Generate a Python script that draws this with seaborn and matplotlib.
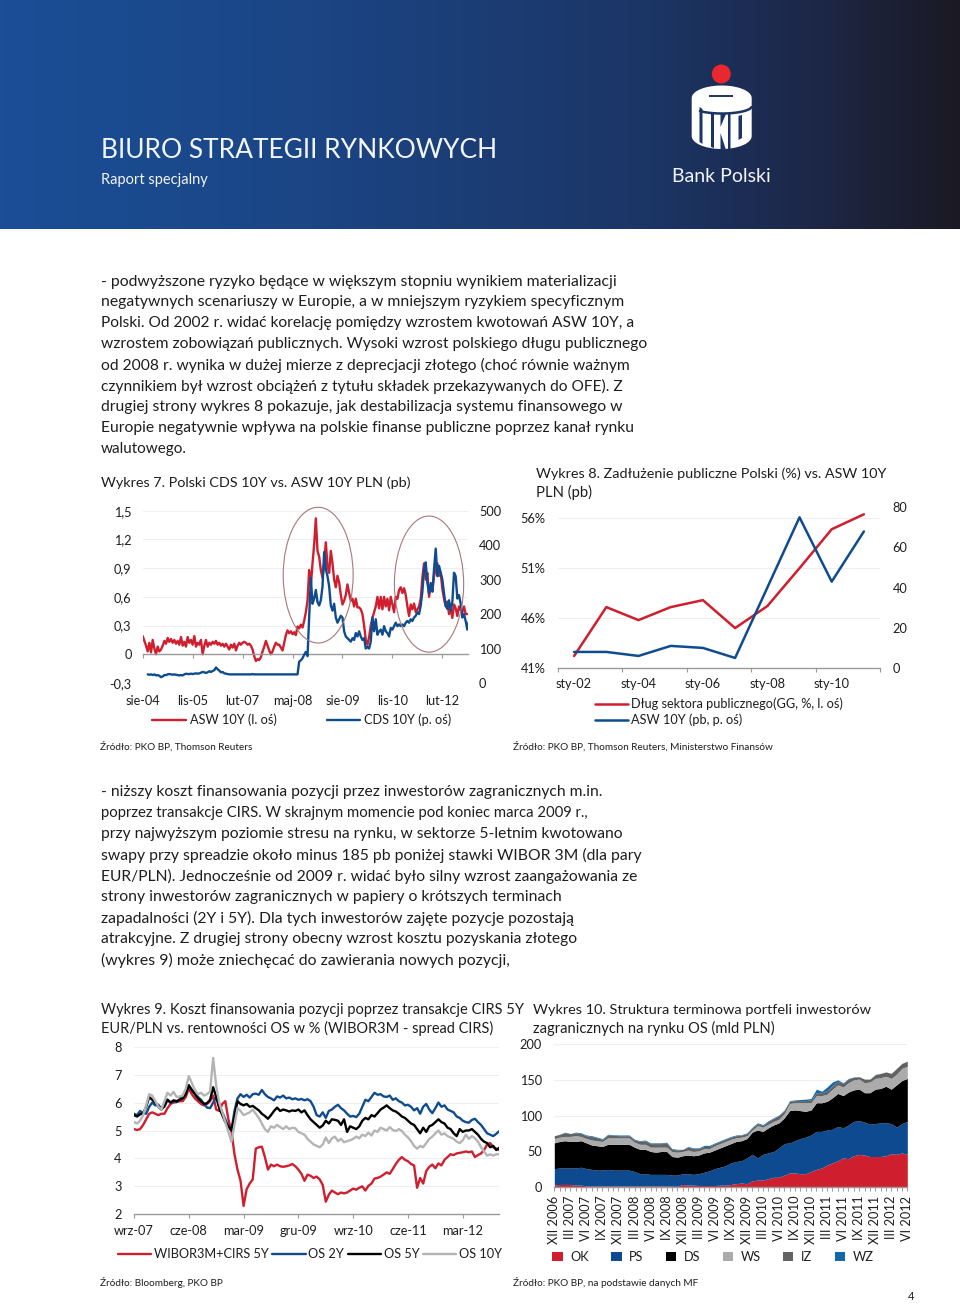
import numpy as np
import matplotlib
matplotlib.use("Agg")
import matplotlib.pyplot as plt
import seaborn as sns
from matplotlib.colors import LinearSegmentedColormap
from matplotlib.patches import Ellipse, Polygon, Circle, Patch

# ---------- chart 7 data ----------
w7_labels = ["sie-04", "lis-05", "lut-07", "maj-08", "sie-09", "lis-10", "lut-12"]
asw10y = [
 .19,.14,.09,.03,.12,.02,.15,.06,.00,.08,.03,.05,.09,.14,.11,.17,.13,.16,.12,.15,
 .11,.14,.10,.18,.09,.13,.08,.18,.12,.15,.10,.19,.08,.12,.10,.15,.00,.09,.15,.08,
 .12,.10,.13,.11,.14,.10,.12,.09,.11,.08,.11,.08,.05,.10,.07,.11,.04,.09,.12,.10,
 .12,.13,.12,.10,.11,.09,.05,-.02,-.07,-.05,-.06,-.03,.03,.08,.14,.09,.04,.00,.03,.08,
 .12,.10,.10,.07,.04,.12,.20,.25,.22,.24,.21,.23,.20,.29,.27,.31,.28,.35,.44,.56,
 .88,.72,.95,1.15,1.42,1.08,1.02,.88,.80,.95,1.17,.92,.85,1.08,.95,.78,.70,.82,.75,.62,
 .52,.56,.62,.73,.64,.56,.58,.50,.58,.49,.49,.47,.42,.30,.15,.10,.18,.30,.38,.44,
 .50,.60,.48,.60,.47,.60,.50,.58,.46,.60,.52,.44,.60,.58,.67,.70,.64,.69,.62,.50,
 .40,.52,.47,.53,.44,.47,.50,.58,.80,.95,.78,.85,.60,.72,.66,.82,.88,.95,.82,.85,
 .68,.58,.50,.55,.42,.48,.38,.52,.48,.40,.50,.46,.44,.50,.42,.42]
cds10y = [
 25,24,25,23,25,22,23,21,17,19,23,23,25,26,25,24,25,24,23,22,
 23,22,25,27,26,26,27,26,27,28,27,28,30,32,31,29,31,34,32,35,
 37,45,40,36,31,32,28,27,26,25,25,25,25,25,25,25,25,25,25,25,
 25,25,25,26,25,25,25,25,25,25,25,25,25,25,25,25,25,25,25,25,
 25,25,25,25,25,25,25,25,25,25,25,62,66,72,82,90,78,
 190,305,230,245,270,235,225,240,280,380,330,310,280,225,210,230,190,175,185,195,
 190,150,135,130,125,120,130,125,145,135,150,135,125,130,100,105,100,120,190,150,
 185,140,150,155,140,165,150,145,135,160,155,165,175,165,170,165,170,165,175,180,
 175,185,180,190,195,205,200,225,265,330,350,290,260,290,265,330,390,310,340,320,300,
 260,225,215,240,210,235,320,310,245,255,230,190,200,180,155,180]

# ---------- chart 8 data ----------
w8_labels = ["sty-02", "sty-04", "sty-06", "sty-08", "sty-10"]
debt_pct = [42.2, 47.1, 45.8, 47.1, 47.8, 45.0, 47.2, 51.0, 54.9, 56.4]
asw_pb = [8, 8, 6, 11, 10, 5, 40, 75, 43, 68]

# ---------- chart 9 data ----------
w9_labels = ["wrz-07", "cze-08", "mar-09", "gru-09", "wrz-10", "cze-11", "mar-12"]
wibor_cirs = [
 5.05,5.02,5.05,5.20,5.40,5.60,5.65,5.60,5.55,5.60,
 5.60,5.80,5.95,6.00,6.02,6.05,6.05,6.20,6.50,6.30,
 6.15,6.05,5.95,5.90,5.95,6.05,6.25,5.75,5.70,5.95,
 6.05,5.40,5.00,4.15,3.60,3.20,2.30,2.90,3.10,3.25,
 4.35,4.40,4.42,4.05,3.60,3.78,3.72,3.78,3.72,3.70,
 3.72,3.75,3.80,3.72,3.60,3.45,3.20,3.42,3.38,3.30,
 3.35,3.25,3.05,2.45,2.70,2.85,2.78,2.72,2.78,2.75,
 2.78,2.85,2.92,2.88,2.95,3.00,2.85,3.02,3.10,3.28,
 3.30,3.35,3.42,3.50,3.45,3.62,3.80,3.95,4.05,3.95,
 3.90,3.80,3.75,2.95,3.30,3.10,3.55,3.70,3.78,3.65,
 3.82,3.75,3.95,4.05,4.15,4.12,4.18,4.20,4.22,4.25,
 4.22,4.25,4.05,4.12,4.18,4.30,4.50,4.55,4.40,4.35,4.30]
os2y = [
 5.60,5.55,5.70,5.62,5.60,5.85,6.00,5.90,5.92,5.78,
 5.85,6.10,6.00,6.05,6.02,6.12,6.25,6.40,6.60,6.45,
 6.35,6.20,6.10,5.95,5.82,5.80,6.00,6.20,5.90,5.65,
 5.40,5.15,5.00,5.70,6.15,6.30,6.20,6.28,6.18,6.30,
 6.32,6.28,6.45,6.30,6.20,6.15,6.08,6.22,6.18,6.25,
 6.15,6.18,6.12,6.15,6.10,6.13,6.08,6.12,6.05,5.85,
 5.55,5.50,5.65,5.45,5.70,5.75,5.85,5.92,5.80,5.72,
 5.60,5.50,5.52,5.48,5.60,5.85,6.10,6.05,6.20,6.35,
 6.28,6.30,6.22,6.20,6.25,6.10,6.15,6.05,6.00,5.90,
 5.92,5.85,5.72,5.80,5.60,5.85,5.95,5.75,5.62,5.80,
 6.00,5.85,5.90,5.75,5.70,5.65,5.50,5.45,5.35,5.30,
 5.28,5.38,5.42,5.30,5.20,5.05,4.90,4.85,4.80,4.88,4.98]
os5y = [
 5.55,5.50,5.58,5.62,5.85,6.20,6.10,6.00,5.85,5.75,
 5.90,6.10,6.00,6.08,6.05,6.10,6.15,6.30,6.62,6.45,
 6.30,6.15,6.05,5.95,5.98,6.10,6.55,6.20,5.80,5.55,
 5.30,5.15,5.00,5.50,6.05,5.95,5.90,5.95,5.85,5.88,
 5.80,5.72,5.60,5.52,5.42,5.55,5.70,5.82,5.70,5.75,
 5.72,5.68,5.72,5.70,5.75,5.65,5.72,5.55,5.40,5.30,
 5.20,5.10,5.18,5.35,5.25,5.40,5.38,5.35,5.20,5.40,
 4.95,5.15,5.10,5.05,5.15,5.35,5.45,5.40,5.55,5.50,
 5.62,5.75,5.82,5.90,5.80,5.72,5.68,5.60,5.50,5.45,
 5.35,5.25,5.20,5.05,4.90,5.10,4.95,5.15,5.20,5.30,
 5.40,5.30,5.25,5.10,5.05,4.90,4.80,5.05,4.95,5.00,
 5.00,5.05,4.95,4.85,4.70,4.60,4.55,4.40,4.45,4.30,4.38]
os10y = [
 5.30,5.25,5.35,5.55,5.90,6.30,6.25,6.05,5.85,5.75,
 6.05,6.35,6.25,6.38,6.20,6.22,6.25,6.50,6.95,6.70,
 6.45,6.30,6.35,6.25,6.30,6.40,7.60,6.60,6.00,5.65,
 5.30,4.95,4.60,5.20,5.80,5.70,5.55,5.60,5.65,5.75,
 5.60,5.45,5.25,5.05,4.95,5.15,5.10,5.20,5.12,5.05,
 5.15,5.05,5.10,5.08,4.95,4.90,4.85,4.70,4.60,4.50,
 4.45,4.40,4.50,4.75,4.55,4.72,4.78,4.62,4.70,4.58,
 4.62,4.65,4.70,4.78,4.72,4.85,4.80,4.92,4.82,5.00,
 4.95,5.10,5.05,5.00,5.12,5.02,4.98,5.05,4.98,4.85,
 4.75,4.62,4.45,4.35,4.45,4.40,4.55,4.70,4.78,4.90,
 5.00,4.85,4.90,4.80,4.75,4.70,4.60,4.55,4.65,4.85,
 4.70,4.80,4.72,4.60,4.40,4.25,4.10,4.15,4.10,4.15,4.15]

# ---------- chart 10 data: monthly upper edge of each stacked band ----------
w10_quarters = ["XII 2006","III 2007","VI 2007","IX 2007","XII 2007","III 2008","VI 2008","IX 2008",
                "XII 2008","III 2009","VI 2009","IX 2009","XII 2009","III 2010","VI 2010","IX 2010",
                "XII 2010","III 2011","VI 2011","IX 2011","XII 2011","III 2012","VI 2012"]
ok_top = [3,4,4,4,3,3,2,2,2,2,2,2,2,2,2,2,2,2,2,2,2,2,1.5,1.5,4,3,3,2.5,2.5,2.5,2.5,3,3,4,5,6,5,
          9,10,10,12,14,14,17,20,20,19,19,22,25,27,31,34,37,41,40,44,46,45,43,43,43,44,47,46,48,46]
ps_top = [26,27,27,27,27,28,26,25,24,24,25,24,24,24,24,22,19,19,18,18,18,18,17,17,19,19,18,19,21,23,26,28,30,
          34,36,37,41,46,41,46,48,50,55,61,62,65,68,70,73,78,78,80,81,85,83,87,92,93,91,88,89,90,90,89,84,89,92]
ds_top = [62,64,65,64,64,65,62,59,58,57,60,60,60,60,60,56,53,53,50,49,50,50,43,42,44,45,44,45,48,49,52,55,58,
          61,64,65,68,77,80,78,83,87,90,97,107,108,107,106,108,118,118,120,125,131,128,133,136,137,132,132,137,138,141,137,143,149,152]
ws_top = [68,70,71,71,72,71,68,66,65,64,69,69,69,69,69,63,60,60,56,56,56,56,50,49,50,52,50,51,54,54,58,61,64,
          67,69,70,72,80,86,84,88,92,95,103,117,118,118,118,118,128,128,130,137,143,140,146,150,151,146,147,152,153,155,152,158,166,169]
iz_top = [72,74,76,75,76,75,72,71,69,67,73,73,72,72,72,66,64,65,61,61,61,62,53,52,53,56,54,54,57,57,61,64,67,
          70,72,73,75,83,89,86,92,96,100,107,120,121,121,121,122,132,132,135,142,148,145,151,154,154,151,151,157,159,161,159,166,173,176]
wz_top = [72,74,77,75,77,76,73,72,70,68,74,73.5,73,73,73,67,65,66,62,62,62,63,54,53,53,57,55,55,58.5,58.5,62,65,68,
          71,73,73.5,76,84,90,87.5,93,97,101,108,121,122,122.5,123,124,137,134,140,147,150,146,152,154,154.5,151,151,157.5,159,161,159,166,173,176]
w10_names = ["OK", "PS", "DS", "WS", "IZ", "WZ"]

# ---------- page text ----------
para1 = [
 ("- podwyższone ryzyko będące w większym stopniu wynikiem materializacji", 282, 614),
 ("negatywnych scenariuszy w Europie, a w mniejszym ryzykiem specyficznym", 302, 624),
 ("Polski. Od 2002 r. widać korelację pomiędzy wzrostem kwotowań ASW 10Y, a", 323, 634),
 ("wzrostem zobowiązań publicznych. Wysoki wzrost polskiego długu publicznego", 344, 644),
 ("od 2008 r. wynika w dużej mierze z deprecjacji złotego (choć równie ważnym", 365, 628),
 ("czynnikiem był wzrost obciążeń z tytułu składek przekazywanych do OFE). Z", 386, 623),
 ("drugiej strony wykres 8 pokazuje, jak destabilizacja systemu finansowego w", 407, 623),
 ("Europie negatywnie wpływa na polskie finanse publiczne poprzez kanał rynku", 428, 633),
 ("walutowego.", 449, 187)]
para2 = [
 ("- niższy koszt finansowania pozycji przez inwestorów zagranicznych m.in.", 792, 602),
 ("poprzez transakcje CIRS. W skrajnym momencie pod koniec marca 2009 r.,", 813, 587),
 ("przy najwyższym poziomie stresu na rynku, w sektorze 5-letnim kwotowano", 834, 621),
 ("swapy przy spreadzie około minus 185 pb poniżej stawki WIBOR 3M (dla pary", 855, 640),
 ("EUR/PLN). Jednocześnie od 2009 r. widać było silny wzrost zaangażowania ze", 876, 636),
 ("strony inwestorów zagranicznych w papiery o krótszych terminach", 897, 562),
 ("zapadalności (2Y i 5Y). Dla tych inwestorów zajęte pozycje pozostają", 918, 572),
 ("atrakcyjne. Z drugiej strony obecny wzrost kosztu pozyskania złotego", 939, 577),
 ("(wykres 9) może zniechęcać do zawierania nowych pozycji,", 960, 508)]

RED, BLUE, GRAY = "#CF1F2E", "#0F4C8F", "#B4B4B4"
GRID = "#EFEFEF"
INK = "#1E1E1E"

sns.set_theme(style="white")
plt.rcParams["font.family"] = ["Lato", "DejaVu Sans"]
plt.rcParams["text.color"] = INK
plt.rcParams["axes.labelcolor"] = INK
plt.rcParams["xtick.color"] = INK
plt.rcParams["ytick.color"] = INK

W, H = 960, 1304
fig = plt.figure(figsize=(W/100, H/100), dpi=100, facecolor="white")

ov = fig.add_axes([0, 0, 1, 1], zorder=5)
ov.set_xlim(0, W); ov.set_ylim(H, 0); ov.axis("off"); ov.patch.set_alpha(0)
bg = fig.add_axes([0, 1-229/H, 1, 229/H], zorder=0)
cm = LinearSegmentedColormap.from_list("hdr", [(0, "#1A4E96"), (.3, "#1B4686"), (.68, "#1B3565"),
                                               (.85, "#1D2748"), (1, "#1B1A24")])
bg.imshow(np.linspace(0, 1, 480)[None, :], aspect="auto", cmap=cm)
bg.axis("off")

renderer = fig.canvas.get_renderer()
def T(x, y, s, right=None, size=11, **kw):
    kw.setdefault("va", "center")
    kw.setdefault("ha", "left")
    t = ov.text(x, y, s, fontsize=size, **kw)
    if right is not None:
        w = t.get_window_extent(renderer).width
        t.set_fontsize(size*(right-x)/w)
    return t

def box(l, t, r, b):
    a = fig.add_axes([l/W, 1-b/H, (r-l)/W, (b-t)/H], zorder=2)
    a.patch.set_alpha(0)
    return a

def clean(a, left=False, right=False, top=False, bottom=True):
    for k, v in dict(left=left, right=right, top=top, bottom=bottom).items():
        a.spines[k].set_visible(v)
    a.spines["bottom"].set_color("#9A9A9A")
    a.spines["bottom"].set_linewidth(1.0)

TICK = 9.2
# ---------- header ----------
WHITE = "#F2F5FA"
T(101, 150, "BIURO STRATEGII RYNKOWYCH", right=498, size=19, color=WHITE)
T(101, 180, "Raport specjalny", right=208, size=10.5, color=WHITE)
T(672, 177, "Bank Polski", right=771, size=14, color=WHITE)
ov.add_patch(Circle((721.3, 74), 9.5, fc="#E8282E", ec="none"))
th = np.linspace(0, np.pi, 40)
barrel = np.vstack([np.c_[721.7+30*np.cos(th), 98-12.5*np.sin(th)],
                    [[691.7, 136]],
                    np.c_[721.7-30*np.cos(th), 136+13*np.sin(th)],
                    [[751.7, 104]]])
ov.add_patch(Polygon(barrel, fc="white", ec="none"))
DK = "#1A3565"
ov.plot([709, 733], [96, 96], color=DK, lw=1.4, solid_capstyle="butt")
xs = np.linspace(700, 751.7, 30)
ov.plot(xs, 106+7.5*np.sqrt(np.clip(1-((xs-722)/30)**2, 0, 1)), color=DK, lw=1.8)
for poly in ([[699.5, 107], [702.5, 109], [702.5, 144], [699.5, 142]],
             [[711, 112], [714, 113], [714, 148], [711, 147]],
             [[720.5, 114], [726, 114], [720.5, 127]],
             [[720.5, 133], [726, 150], [720.5, 150]],
             [[728, 114], [730.5, 114], [730.5, 149], [728, 149.5]],
             [[738.5, 116], [742, 115], [742, 138], [738.5, 140]]):
    ov.add_patch(Polygon(poly, fc=DK, ec="none"))

# ---------- body text ----------
for s, y, r in para1 + para2:
    T(101, y, s, right=r)
T(101, 483, "Wykres 7. Polski CDS 10Y vs. ASW 10Y PLN (pb)", right=411)
T(536, 474, "Wykres 8. Zadłużenie publiczne Polski (%) vs. ASW 10Y", right=888)
T(536, 492, "PLN (pb)", right=592)
T(101, 1010, "Wykres 9. Koszt finansowania pozycji poprzez transakcje CIRS 5Y", right=521)
T(101, 1028, "EUR/PLN vs. rentowności OS w % (WIBOR3M - spread CIRS)", right=492)
T(533, 1010, "Wykres 10. Struktura terminowa portfeli inwestorów", right=870)
T(533, 1028, "zagranicznych na rynku OS (mld PLN)", right=776)
T(100, 747, "Źródło: PKO BP, Thomson Reuters", right=252, size=8)
T(513, 747, "Źródło: PKO BP, Thomson Reuters, Ministerstwo Finansów", right=773, size=8)
T(100, 1283, "Źródło: Bloomberg, PKO BP", right=224, size=8)
T(513, 1283, "Źródło: PKO BP, na podstawie danych MF", right=700, size=8)
T(908, 1297, "4", size=8)

def line(a, x, y, color, lw, label=None):
    sns.lineplot(x=np.asarray(x, float), y=np.asarray(y, float), ax=a, color=color, lw=lw,
                 label=label, estimator=None, sort=False, errorbar=None, legend=False)

def leg(handles, labels, cx, cy, ncol, cs, hl=2.6, htp=.35):
    fig.legend(handles, labels, loc="center", bbox_to_anchor=(cx/W, 1-cy/H), ncol=ncol, frameon=False,
               fontsize=TICK, handlelength=hl, handletextpad=htp, columnspacing=cs,
               borderpad=0, labelspacing=.25, labelcolor=INK)

# ---------- chart 7 ----------
a7 = box(142.7, 510.7, 468, 683)
x_asw = np.arange(len(asw10y))*.5
x_cds = 1.5 + np.arange(len(cds10y))*.5
line(a7, x_asw, asw10y, RED, 1.7)
a7.set_xlim(0, 97.7); a7.set_ylim(-.3, 1.5)
a7r = a7.twinx(); a7r.patch.set_alpha(0)
line(a7r, x_cds, cds10y, BLUE, 1.7)
a7r.set_ylim(0, 500)
a7.set_yticks([-.3, 0, .3, .6, .9, 1.2, 1.5])
a7.set_yticklabels(["-0,3", "0", "0,3", "0,6", "0,9", "1,2", "1,5"], fontsize=TICK)
a7r.set_yticks(range(0, 501, 100))
a7r.set_yticklabels([str(v) for v in range(0, 501, 100)], fontsize=TICK)
a7.grid(axis="y", color=GRID, lw=.8); a7.set_axisbelow(True)
clean(a7); clean(a7r, bottom=False)
a7.spines["bottom"].set_position(("data", 0))
a7.set_xticks(np.arange(7)*15); a7.set_xticklabels(w7_labels, fontsize=TICK)
a7.tick_params(axis="x", length=3, width=.8, color="#9A9A9A", pad=26, bottom=True)
a7.tick_params(axis="y", length=0, pad=8)
a7r.tick_params(axis="y", length=0, pad=8)
a7r.set_ylabel(""); a7.set_ylabel("")
a7r.add_patch(Ellipse((52.7, 313), 21, 394, fc="none", ec="#A9777B", lw=.8, zorder=5, clip_on=False))
a7r.add_patch(Ellipse((86, 287), 20.8, 395, fc="none", ec="#A9777B", lw=.8, zorder=5, clip_on=False))
leg([a7.lines[0], a7r.lines[0]], ["ASW 10Y (l. oś)", "CDS 10Y (p. oś)"], 302, 720, 2, 3.9)

# ---------- chart 8 ----------
a8 = box(558, 507.3, 880, 668)
x8 = np.arange(10) + .5
line(a8, x8, debt_pct, RED, 1.8)
a8.set_xlim(0, 10); a8.set_ylim(41, 57.1)
a8r = a8.twinx(); a8r.patch.set_alpha(0)
line(a8r, x8, asw_pb, BLUE, 1.8)
a8r.set_ylim(0, 80)
a8.set_yticks([41, 46, 51, 56]); a8.set_yticklabels(["41%", "46%", "51%", "56%"], fontsize=TICK)
a8r.set_yticks(range(0, 81, 20)); a8r.set_yticklabels([str(v) for v in range(0, 81, 20)], fontsize=TICK)
a8.grid(axis="y", color=GRID, lw=.8); a8.set_axisbelow(True)
clean(a8); clean(a8r, bottom=False)
a8.set_xticks(np.arange(0, 11, 2)); a8.set_xticklabels([])
a8.set_xticks(np.arange(5)*2 + .5, minor=True); a8.set_xticklabels(w8_labels, minor=True, fontsize=TICK)
a8.tick_params(axis="x", which="major", length=3, width=.8, color="#9A9A9A", bottom=True)
a8.tick_params(axis="x", which="minor", length=0, pad=7)
a8.tick_params(axis="y", length=0, pad=9)
a8r.tick_params(axis="y", length=0, pad=9)
a8r.set_ylabel(""); a8.set_ylabel("")
leg([a8.lines[0], a8r.lines[0]], ["Dług sektora publicznego(GG, %, l. oś)", "ASW 10Y (pb, p. oś)"], 719, 712, 1, 1, htp=.2)
fig.legends[-1]._legend_box.align = "left"

# ---------- chart 9 ----------
a9 = box(134, 1046.7, 499.3, 1214.3)
x9 = np.arange(len(os2y))*.5
for s, c in ((wibor_cirs, RED), (os2y, BLUE), (os5y, "black"), (os10y, GRAY)):
    line(a9, x9, s, c, 1.7)
a9.set_xlim(0, 60); a9.set_ylim(2, 8)
a9.set_yticks(range(2, 9)); a9.set_yticklabels([str(v) for v in range(2, 9)], fontsize=TICK)
a9.set_xticks(np.arange(7)*9); a9.set_xticklabels(w9_labels, fontsize=TICK)
a9.grid(axis="y", color=GRID, lw=.8); a9.set_axisbelow(True)
clean(a9)
a9.tick_params(axis="x", length=3, width=.8, color="#9A9A9A", pad=5, bottom=True)
a9.tick_params(axis="y", length=0, pad=9)
leg(list(a9.lines), ["WIBOR3M+CIRS 5Y", "OS 2Y", "OS 5Y", "OS 10Y"], 310, 1254, 4, .3, htp=.2)

# ---------- chart 10 ----------
a10 = box(554.3, 1044, 907.3, 1187.3)
x10 = np.arange(len(ok_top))
cols10 = [RED, "#0D4A90", "#000000", "#ABABAB", "#626262", "#1268AA"]
tops = [ok_top, ps_top, ds_top, ws_top, iz_top, wz_top]
lower = np.zeros(len(ok_top))
for top, c in zip(tops, cols10):
    a10.fill_between(x10, lower, top, color=c, lw=0)
    lower = np.asarray(top, float)
a10.set_xlim(0, 66); a10.set_ylim(0, 200)
a10.set_yticks(range(0, 201, 50)); a10.set_yticklabels([str(v) for v in range(0, 201, 50)], fontsize=TICK)
a10.set_xticks(x10[::3]); a10.set_xticklabels(w10_quarters, rotation=90, fontsize=TICK)
a10.set_xticks(x10, minor=True)
a10.grid(axis="y", color=GRID, lw=.8); a10.set_axisbelow(True)
clean(a10)
a10.tick_params(axis="x", which="both", length=3, width=.7, color="#9A9A9A", pad=3, bottom=True)
a10.tick_params(axis="y", length=0, pad=9)
leg([Patch(fc=c, ec="none") for c in cols10], w10_names, 713, 1257, 6, 1.75, hl=.8, htp=.6)

fig.savefig("out.png", dpi=100, facecolor="white")
